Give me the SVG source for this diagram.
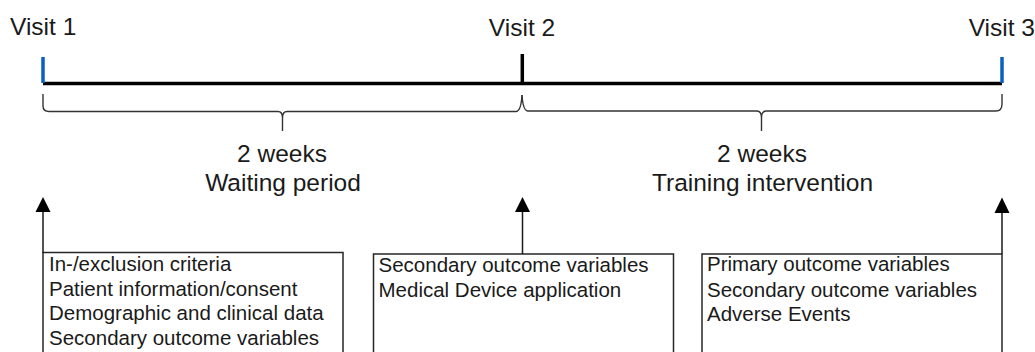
<svg xmlns="http://www.w3.org/2000/svg" width="1035" height="352" viewBox="0 0 1035 352">
<defs>
<style>
.visit{font-family:"Liberation Sans",Arial,sans-serif;font-size:24.5px;fill:#1a1a1a}
.lbl{font-family:"Liberation Sans",Arial,sans-serif;font-size:24.5px;fill:#1a1a1a;text-anchor:middle}
.bt{font-family:"Liberation Sans",Arial,sans-serif;font-size:20.5px;fill:#1a1a1a}
.box{fill:#fff;stroke:#262626;stroke-width:1.5}
.brace{fill:none;stroke:#333;stroke-width:1.4}
.arr{stroke:#1a1a1a;stroke-width:1.5;fill:none}
.head{fill:#000}
</style>
</defs>
<g id="timeline">
<line x1="43" y1="83.5" x2="1002" y2="83.5" stroke="#000" stroke-width="3.5"/>
<line x1="43" y1="57" x2="43" y2="83" stroke="#0a5fbf" stroke-width="3.5"/>
<line x1="522.3" y1="54" x2="522.3" y2="83" stroke="#000" stroke-width="3.5"/>
<line x1="1002" y1="57" x2="1002" y2="83" stroke="#0a5fbf" stroke-width="3.5"/>
</g>
<g id="visit1"><text class="visit" x="10" y="35">Visit 1</text></g>
<g id="visit2"><text class="visit" x="522" y="35.5" text-anchor="middle">Visit 2</text></g>
<g id="visit3"><text class="visit" x="1035" y="35.5" text-anchor="end">Visit 3</text></g>
<g id="brace1">
<path class="brace" d="M43,94 L43,106 Q43,111.5 49,111.5 L278,111.5 Q282.5,111.5 282.5,118 L282.5,131 M282.5,118 Q282.5,111.5 287,111.5 L516,111.5 Q521,111.5 522,95"/>
</g>
<g id="brace2">
<path class="brace" d="M522,95 Q523,111 528,111 L757,111 Q761.5,111 761.5,118 L761.5,131 M761.5,118 Q761.5,111 766,111 L996,111 Q1002,111 1002,104 L1002,94"/>
</g>
<g id="label1">
<text class="lbl" x="282" y="162">2 weeks</text>
<text class="lbl" x="283" y="191">Waiting period</text>
</g>
<g id="label2">
<text class="lbl" x="762" y="162">2 weeks</text>
<text class="lbl" x="762.5" y="191">Training intervention</text>
</g>
<g id="box1">
<rect class="box" x="43" y="252.5" width="300" height="110"/>
<text class="bt" x="49" y="271">In-/exclusion criteria</text>
<text class="bt" x="49" y="295.5">Patient information/consent</text>
<text class="bt" x="49" y="320">Demographic and clinical data</text>
<text class="bt" x="49" y="344.5">Secondary outcome variables</text>
</g>
<g id="box2">
<rect class="box" x="373.5" y="254" width="300" height="110"/>
<text class="bt" x="378.5" y="271.5">Secondary outcome variables</text>
<text class="bt" x="378.5" y="297">Medical Device application</text>
</g>
<g id="box3">
<rect class="box" x="702" y="254" width="300" height="110"/>
<text class="bt" x="707" y="271">Primary outcome variables</text>
<text class="bt" x="707" y="296.5">Secondary outcome variables</text>
<text class="bt" x="707" y="320.5">Adverse Events</text>
</g>
<g id="connectors">
<line class="arr" x1="43" y1="253" x2="43" y2="211"/>
<path class="head" d="M35.5,212 L50.5,212 L43,197 Z"/>
<line class="arr" x1="522.5" y1="254" x2="522.5" y2="211"/>
<path class="head" d="M515,212 L530,212 L522.5,197 Z"/>
<line class="arr" x1="1002" y1="254" x2="1002" y2="212"/>
<path class="head" d="M994.5,213 L1009.5,213 L1002,197.5 Z"/>
</g>
</svg>
